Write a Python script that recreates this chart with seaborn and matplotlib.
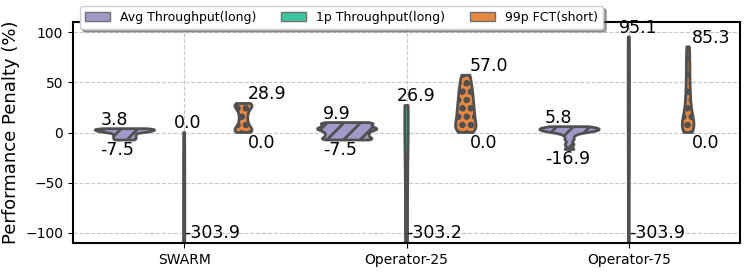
import pandas as pd
import numpy as np
import matplotlib
matplotlib.use("Agg")
from matplotlib import pyplot as plt
from matplotlib.patches import Patch
import seaborn as sns

categories = ["SWARM", "Operator-25", "Operator-75"]
series = ["Avg Throughput(long)", "1p Throughput(long)", "99p FCT(short)"]
colors = ["#9f9bc9", "#3ec6a0", "#e8873f"]
hatches = ["//", "||", "oo"]

# penalty samples (%) per setup
swarm_avg = [-7.5, -6.0, -4.5, -3.0, -1.5, 0.0, 0.6, 1.2, 1.8, 2.4, 3.0, 3.4, 3.8]
swarm_p1 = [-303.9, -250.0, -200.0, -150.0, -100.0, -50.0, 0.0]
swarm_p99 = [0.0, 1.0, 2.5, 4.5, 7.0, 10.5, 14.5, 18.5, 22.0, 24.5, 26.5, 28.0, 28.9]
op25_avg = [-7.5, -7.0, -5.5, -4.0, -2.5, -1.0, 0.5, 2.0, 3.0, 4.0, 5.0, 6.5, 8.0, 9.2, 9.9]
op25_p1 = [-303.2, -200.0, -100.0, 0.0, 26.9]
op25_p99 = [0.0, 3.0, 6.0, 9.5, 13.0, 17.0, 21.0, 25.0, 29.5, 34.0, 39.0, 44.0, 50.0, 57.0]
op75_avg = [-16.9, -12.0, -7.0, -3.0, 0.0, 0.6, 1.2, 1.8, 2.4, 3.0, 3.6, 4.2, 4.8, 5.3, 5.8]
op75_p1 = [-303.9, -150.0, 0.0, 95.1]
op75_p99 = [0.0, 2.0, 4.0, 6.5, 9.0, 12.0, 15.0, 19.0, 24.0, 30.0, 37.0, 45.0, 54.0, 64.0, 74.0, 85.3]

values = {
    ("SWARM", series[0]): swarm_avg,
    ("SWARM", series[1]): swarm_p1,
    ("SWARM", series[2]): swarm_p99,
    ("Operator-25", series[0]): op25_avg,
    ("Operator-25", series[1]): op25_p1,
    ("Operator-25", series[2]): op25_p99,
    ("Operator-75", series[0]): op75_avg,
    ("Operator-75", series[1]): op75_p1,
    ("Operator-75", series[2]): op75_p99,
}

rows = []
for (cat, ser), vals in values.items():
    for v in vals:
        rows.append({"setup": cat, "metric": ser, "penalty": v})
df = pd.DataFrame(rows)

plt.rcParams["hatch.linewidth"] = 2.0
fig = plt.figure(figsize=(7.47, 2.72), dpi=100)
ax = fig.add_axes([73 / 747, 29 / 272, 667 / 747, 221 / 272])

pal = dict(zip(series, colors))
# one call per setup so the widths are scaled within each setup
for cat in categories:
    sns.violinplot(data=df[df["setup"] == cat], x="setup", y="penalty", hue="metric",
                   order=categories, hue_order=series, palette=pal, cut=0, inner=None,
                   saturation=1, linewidth=2, linecolor="#505050", bw_adjust=0.45,
                   common_norm=True, ax=ax, legend=False)

# hatches by matching facecolour
for coll in ax.collections:
    fc = coll.get_facecolor()
    if len(fc) == 0:
        continue
    for c, h in zip(colors, hatches):
        if np.allclose(fc[0][:3], matplotlib.colors.to_rgb(c), atol=0.02):
            coll.set_hatch(h)
            coll.set_edgecolor("#505050")

ax.set_ylim(-110, 110)
ax.set_xlim(-0.5, 2.5)
ax.set_yticks([-100, -50, 0, 50, 100])
ax.set_xlabel("")
ax.set_ylabel("Performance Penalty (%)", fontsize=13)
ax.tick_params(labelsize=10)
ax.grid(True, ls="--", color="#c8c8c8", lw=0.8)
ax.set_axisbelow(True)
for sp in ax.spines.values():
    sp.set_linewidth(1.5)
    sp.set_color("black")

# min / max annotations
width = 0.8 / 3
max_dx = [-0.11, -0.045, 0.018]
min_dx = [-0.11, 0.0, 0.018]
for i, cat in enumerate(categories):
    for j, ser in enumerate(series):
        vals = values[(cat, ser)]
        xc = i + (j - 1) * width
        hi, lo = max(vals), min(vals)
        ax.text(xc + max_dx[j], hi, f"{hi:.1f}", ha="left", va="bottom", fontsize=12.5)
        if lo < -100:
            ax.text(xc + min_dx[j], -100, f"{lo:.1f}", ha="left", va="center", fontsize=12.5)
        else:
            ax.text(xc + min_dx[j], lo - 1, f"{lo:.1f}", ha="left", va="top", fontsize=12.5)

handles = [Patch(facecolor=c, edgecolor="#707070", label=s) for c, s in zip(colors, series)]
fig.legend(handles=handles, loc="upper left", bbox_to_anchor=(80 / 747, 1 - 6 / 272),
           ncol=3, fontsize=9, shadow=True, framealpha=1, borderaxespad=0)

fig.savefig("out.png", dpi=100)
